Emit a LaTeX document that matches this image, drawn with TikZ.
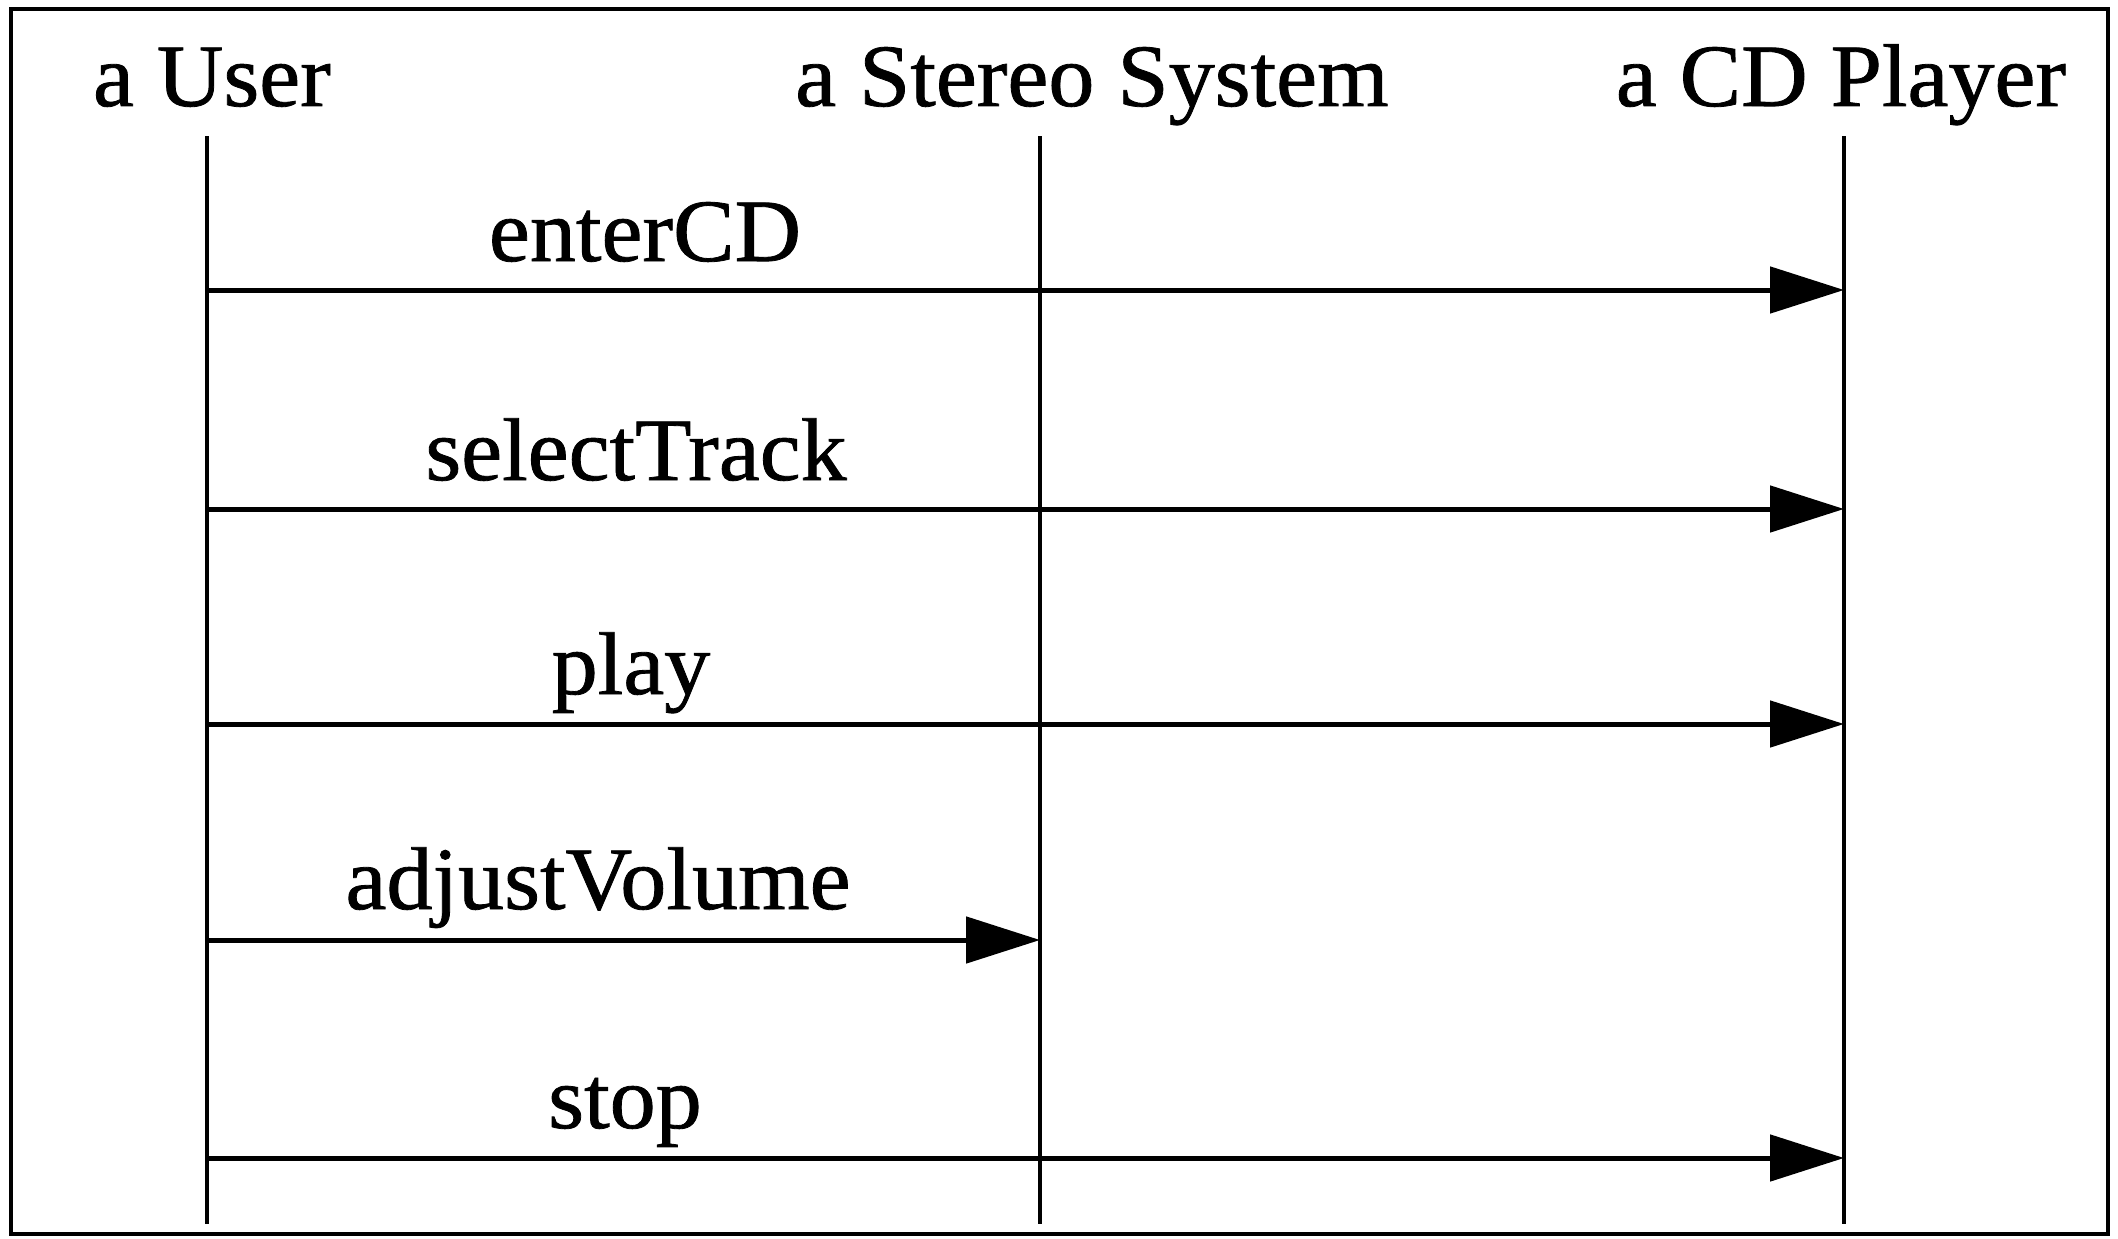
\documentclass[tikz,border=0pt]{standalone}
\usepackage{fontspec}
\setmainfont{Liberation Serif}[FakeStretch=1.035, FakeBold=0.9]
\usetikzlibrary{arrows.meta}
\tikzset{
  lbl/.style={anchor=base, inner sep=0pt, font=\fontsize{89}{100}\selectfont},
  life/.style={line width=4.5pt},
  msg/.style={line width=5pt, -{Triangle[length=74pt, width=46pt]}},
  frame/.style={line width=4.5pt}
}
\begin{document}
\begin{tikzpicture}[x=1pt, y=-1pt]
\useasboundingbox (0,0) rectangle (2118,1239);
\draw[frame] (11,9) rectangle (2108,1234);
% headers
\node[lbl] (hU) at (212,106) {a User};
\node[lbl] (hS) at (1092,106) {a Stereo System};
\node[lbl] (hC) at (1841,106) {a CD Player};
% lifelines
\coordinate (Ut) at (207,136);
\coordinate (Ub) at (207,1224);
\coordinate (St) at (1040,136);
\coordinate (Sb) at (1040,1224);
\coordinate (Ct) at (1844,136);
\coordinate (Cb) at (1844,1224);
\draw[life] (Ut) -- (Ub);
\draw[life] (St) -- (Sb);
\draw[life] (Ct) -- (Cb);
% message rows
\coordinate (m1) at (0,290);
\coordinate (m2) at (0,509);
\coordinate (m3) at (0,724);
\coordinate (m4) at (0,940);
\coordinate (m5) at (0,1158);
\draw[msg] (Ut |- m1) -- (Ct |- m1);
\draw[msg] (Ut |- m2) -- (Ct |- m2);
\draw[msg] (Ut |- m3) -- (Ct |- m3);
\draw[msg] (Ut |- m4) -- (St |- m4);
\draw[msg] (Ut |- m5) -- (Ct |- m5);
% labels
\node[lbl] (l1) at (645,261) {enterCD};
\node[lbl] (l2) at (636,480) {selectTrack};
\node[lbl] (l3) at (631,694) {play};
\node[lbl] (l4) at (598,909) {adjustVolume};
\node[lbl] (l5) at (625,1128) {stop};
\end{tikzpicture}
\end{document}
